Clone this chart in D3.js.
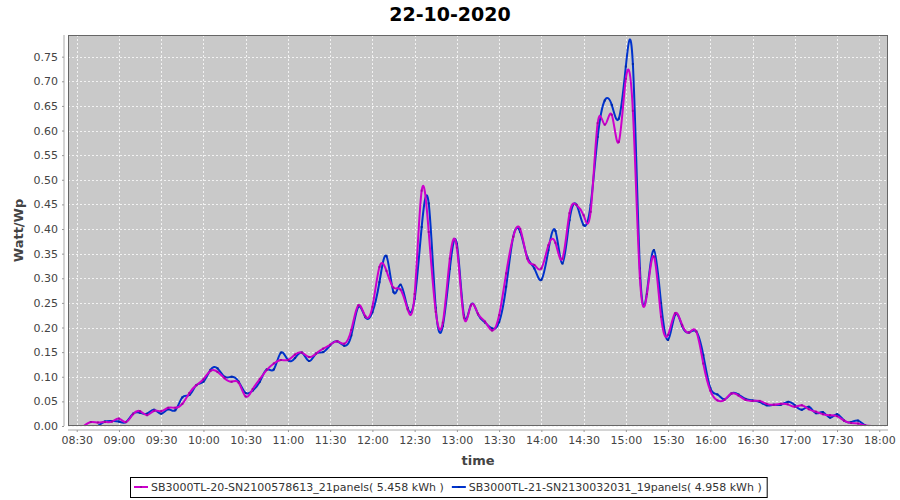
<!DOCTYPE html>
<html>
<head>
<meta charset="utf-8">
<script src="https://cdn.jsdelivr.net/npm/d3@7"></script>
<style>
  body { margin: 0; background: #fff; }
  text { font-family: "DejaVu Sans", sans-serif; }
</style>
</head>
<body>
<div class="stage"></div>
<script>
// chart data (5 minute samples)
var title = "22-10-2020";
var times = [
  "08:35","08:40","08:45","08:50","08:55",
  "09:00","09:05","09:10","09:15","09:20","09:25","09:30","09:35","09:40","09:45","09:50","09:55",
  "10:00","10:05","10:10","10:15","10:20","10:25","10:30","10:35","10:40","10:45","10:50","10:55",
  "11:00","11:05","11:10","11:15","11:20","11:25","11:30","11:35","11:40","11:45","11:50","11:55",
  "12:00","12:05","12:10","12:15","12:20","12:25","12:30","12:35","12:40","12:45","12:50","12:55",
  "13:00","13:05","13:10","13:15","13:20","13:25","13:30","13:35","13:40","13:45","13:50","13:55",
  "14:00","14:05","14:10","14:15","14:20","14:25","14:30","14:35","14:40","14:45","14:50","14:55",
  "15:00","15:05","15:10","15:15","15:20","15:25","15:30","15:35","15:40","15:45","15:50","15:55",
  "16:00","16:05","16:10","16:15","16:20","16:25","16:30","16:35","16:40","16:45","16:50","16:55",
  "17:00","17:05","17:10","17:15","17:20","17:25","17:30","17:35","17:40","17:45","17:50","17:55"
];
var sb20 = [
  0.000,0.008,0.007,0.008,0.009,
  0.015,0.008,0.024,0.030,0.022,0.031,0.030,0.037,0.037,0.045,0.067,0.083,
  0.095,0.112,0.110,0.097,0.090,0.088,0.060,0.075,0.095,0.114,0.127,0.134,
  0.134,0.145,0.149,0.140,0.147,0.157,0.165,0.172,0.167,0.195,0.245,0.223,
  0.242,0.323,0.315,0.281,0.277,0.237,0.268,0.478,0.394,0.232,0.210,0.340,
  0.362,0.220,0.245,0.228,0.212,0.194,0.225,0.310,0.384,0.400,0.340,0.327,
  0.320,0.367,0.372,0.340,0.432,0.449,0.428,0.435,0.615,0.612,0.632,0.577,
  0.705,0.640,0.300,0.268,0.344,0.222,0.185,0.229,0.205,0.190,0.192,0.127,
  0.072,0.052,0.053,0.066,0.062,0.053,0.051,0.051,0.045,0.043,0.045,0.044,
  0.039,0.042,0.034,0.029,0.024,0.022,0.020,0.011,0.006,0.005,0.001,0.000
];
var sb21 = [
  null,null,0.000,0.009,0.010,
  0.009,0.008,0.025,0.027,0.025,0.033,0.025,0.034,0.032,0.058,0.063,0.083,
  0.090,0.114,0.117,0.100,0.100,0.090,0.067,0.072,0.090,0.115,0.115,0.149,
  0.134,0.138,0.149,0.132,0.147,0.150,0.164,0.172,0.163,0.184,0.242,0.221,
  0.231,0.292,0.345,0.272,0.287,0.240,0.258,0.404,0.452,0.240,0.203,0.319,
  0.370,0.225,0.246,0.227,0.210,0.198,0.211,0.283,0.384,0.394,0.343,0.320,
  0.297,0.357,0.396,0.330,0.418,0.449,0.408,0.449,0.587,0.661,0.652,0.624,
  0.730,0.735,0.320,0.272,0.357,0.250,0.175,0.226,0.203,0.190,0.192,0.144,
  0.077,0.064,0.054,0.066,0.064,0.055,0.052,0.049,0.042,0.043,0.043,0.049,
  0.042,0.033,0.039,0.026,0.028,0.017,0.024,0.011,0.008,0.011,0.001,0.000
];
var seriesNames = [
  "SB3000TL-20-SN2100578613_21panels( 5.458 kWh )",
  "SB3000TL-21-SN2130032031_19panels( 4.958 kWh )"
];
var seriesColors = ["#cc00cc", "#0033cc"];
var xTicks = ["08:30","09:00","09:30","10:00","10:30","11:00","11:30","12:00","12:30","13:00",
  "13:30","14:00","14:30","15:00","15:30","16:00","16:30","17:00","17:30","18:00"];
var yTicks = [0,0.05,0.10,0.15,0.20,0.25,0.30,0.35,0.40,0.45,0.50,0.55,0.60,0.65,0.70,0.75];

var W = 900, H = 500;
var plot = {left: 68, right: 888, top: 35, bottom: 426};

var parseTime = d3.timeParse("%H:%M");
var fmtTime = d3.timeFormat("%H:%M");

var svg = d3.select(".stage").append("svg")
  .attr("width", W)
  .attr("height", H);

svg.append("rect").attr("width", W).attr("height", H).attr("fill", "#fff");

// 2% margin on each side of the time range, like the original chart
var tExt = d3.extent(times, parseTime);
var span = tExt[1] - tExt[0];
var x = d3.scaleTime()
  .domain([new Date(+tExt[0] - span * 0.02), new Date(+tExt[1] + span * 0.02)])
  .range([plot.left, plot.right]);

var y = d3.scaleLinear()
  .domain([0, 0.794])
  .range([plot.bottom, plot.top]);

// plot background
svg.append("rect")
  .attr("x", plot.left)
  .attr("y", plot.top)
  .attr("width", plot.right - plot.left)
  .attr("height", plot.bottom - plot.top)
  .attr("fill", "#c9c9c9");

// grid
var grid = svg.append("g").attr("class", "grid");
grid.selectAll(".vgrid")
  .data(xTicks.map(parseTime))
  .enter().append("line")
    .attr("x1", function(d) { return Math.round(x(d)) + 0.5; })
    .attr("x2", function(d) { return Math.round(x(d)) + 0.5; })
    .attr("y1", plot.top)
    .attr("y2", plot.bottom)
    .attr("stroke", "#f2f2f2")
    .attr("stroke-dasharray", "2,2");
grid.selectAll(".hgrid")
  .data(yTicks)
  .enter().append("line")
    .attr("x1", plot.left)
    .attr("x2", plot.right)
    .attr("y1", function(d) { return Math.round(y(d)) + 0.5; })
    .attr("y2", function(d) { return Math.round(y(d)) + 0.5; })
    .attr("stroke", "#f2f2f2")
    .attr("stroke-dasharray", "2,2");

// series, blue first so magenta sits on top
var series = [
  {name: seriesNames[0], color: seriesColors[0], values: sb20},
  {name: seriesNames[1], color: seriesColors[1], values: sb21}
];

svg.append("clipPath").attr("id", "plotclip")
  .append("rect")
  .attr("x", plot.left).attr("y", plot.top)
  .attr("width", plot.right - plot.left).attr("height", plot.bottom - plot.top);

var line = d3.line()
  .defined(function(d) { return d.v != null; })
  .x(function(d) { return x(d.t); })
  .y(function(d) { return y(d.v); })
  .curve(d3.curveNatural);

var lines = svg.append("g").attr("clip-path", "url(#plotclip)");
series.slice().reverse().forEach(function(s) {
  var pts = times.map(function(t, i) { return {t: parseTime(t), v: s.values[i]}; })
    .filter(function(d) { return d.v != null; });
  lines.append("path")
    .datum(pts)
    .attr("fill", "none")
    .attr("stroke", s.color)
    .attr("stroke-width", 2)
    .attr("d", line);
  lines.selectAll(null)
    .data(pts)
    .enter().append("rect")
      .attr("x", function(d) { return x(d.t) - 1; })
      .attr("y", function(d) { return y(d.v) - 1; })
      .attr("width", 2)
      .attr("height", 2)
      .attr("fill", d3.color(s.color).darker(0.6));
});

// plot outline
svg.append("rect")
  .attr("x", plot.left + 0.5)
  .attr("y", plot.top + 0.5)
  .attr("width", plot.right - plot.left - 1)
  .attr("height", plot.bottom - plot.top - 1)
  .attr("fill", "none")
  .attr("stroke", "#666");

// axes
var xAxis = d3.axisBottom(x)
  .tickValues(xTicks.map(parseTime))
  .tickFormat(fmtTime)
  .tickSize(2)
  .tickPadding(4);
var gx = svg.append("g")
  .attr("transform", "translate(0," + (plot.bottom + 4) + ")")
  .call(xAxis);

var yAxis = d3.axisLeft(y)
  .tickValues(yTicks)
  .tickFormat(d3.format(".2f"))
  .tickSize(2)
  .tickPadding(4);
var gy = svg.append("g")
  .attr("transform", "translate(" + (plot.left - 4) + ",0)")
  .call(yAxis);

[gx, gy].forEach(function(g) {
  g.select(".domain").attr("stroke", "#aaa");
  g.selectAll(".tick line").attr("stroke", "#999");
  g.selectAll(".tick text")
    .attr("fill", "#444")
    .style("font-family", "'DejaVu Sans', sans-serif")
    .style("font-size", "11px");
});
gy.select(".domain").attr("d", "M0," + plot.top + "V" + plot.bottom);
gx.select(".domain").attr("d", "M" + plot.left + ",0H" + plot.right);

// title and axis labels
svg.append("text")
  .attr("x", W / 2)
  .attr("y", 21)
  .attr("text-anchor", "middle")
  .attr("font-size", "19px")
  .attr("font-weight", "bold")
  .attr("fill", "#000")
  .text(title);

svg.append("text")
  .attr("x", (plot.left + plot.right) / 2)
  .attr("y", 465)
  .attr("text-anchor", "middle")
  .attr("font-size", "13px")
  .attr("font-weight", "bold")
  .attr("fill", "#444")
  .text("time");

svg.append("text")
  .attr("transform", "translate(23," + ((plot.top + plot.bottom) / 2) + ") rotate(-90)")
  .attr("text-anchor", "middle")
  .attr("font-size", "13px")
  .attr("font-weight", "bold")
  .attr("fill", "#444")
  .text("Watt/Wp");

// legend
var legend = svg.append("g");
var box = legend.append("rect")
  .attr("fill", "#fff")
  .attr("stroke", "#000");
var cx = 0;
series.forEach(function(s) {
  var item = legend.append("g").attr("transform", "translate(" + cx + ",0)");
  item.append("line")
    .attr("x1", 2).attr("x2", 16)
    .attr("y1", 0).attr("y2", 0)
    .attr("stroke", s.color)
    .attr("stroke-width", 2);
  item.append("rect")
    .attr("x", 8).attr("y", -1).attr("width", 2).attr("height", 2)
    .attr("fill", d3.color(s.color).darker(0.6));
  var t = item.append("text")
    .attr("x", 19)
    .attr("y", 4)
    .attr("font-size", "11px")
    .attr("fill", "#333")
    .attr("xml:space", "preserve")
    .text(s.name);
  cx += 19 + t.node().getComputedTextLength() + 6;
});
var lx = Math.round(W / 2 - cx / 2);
legend.attr("transform", "translate(" + lx + ",487)");
box.attr("x", -1.5).attr("y", -9.5).attr("width", cx + 1).attr("height", 20);
</script>
</body>
</html>
